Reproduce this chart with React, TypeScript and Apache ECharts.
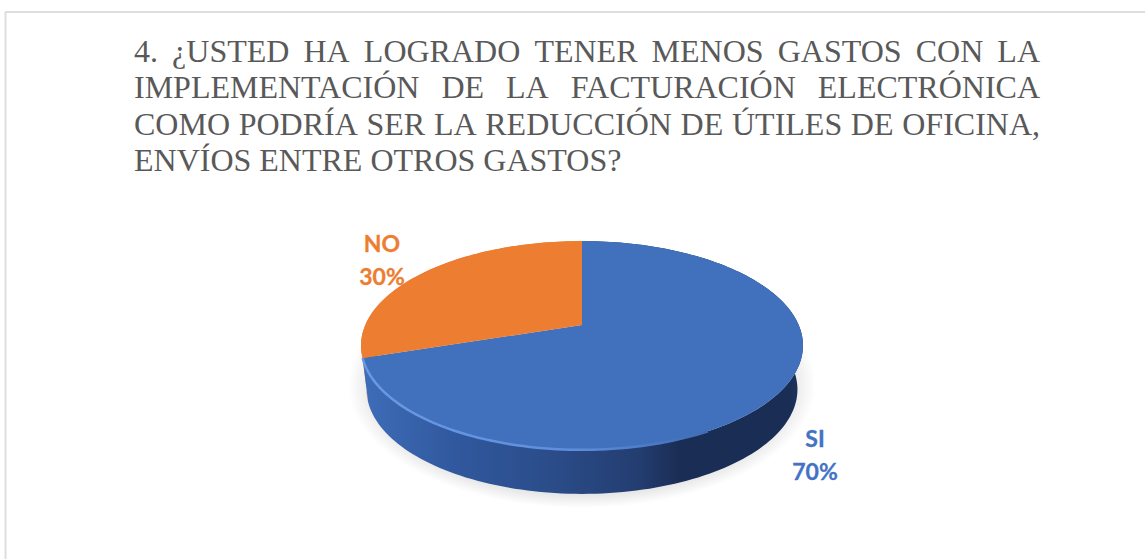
import React, { useEffect, useRef } from "react";
import * as echarts from "echarts";

const categories = ["SI", "NO"];
const values = [70, 30];
const labelColors = ["#4472C4", "#ED7D31"];
const topColors = ["#4170BD", "#ED7D31"];
const titleLines = [
  "4. ¿USTED HA LOGRADO TENER MENOS GASTOS CON LA",
  "IMPLEMENTACIÓN DE LA FACTURACIÓN ELECTRÓNICA",
  "COMO PODRÍA SER LA REDUCCIÓN DE ÚTILES DE OFICINA,",
  "ENVÍOS ENTRE OTROS GASTOS?",
];

const W = 1145;
const H = 559;
const TITLE_FONT = 32;
const TITLE_FAMILY = '"Liberation Serif", serif';
const TITLE_LEFT = 134;
const TITLE_RIGHT = 1040;
const TITLE_TOPS = [35, 71, 108, 144];

// perspective disc: fitted to apex y=325, back y=241, front y=450
const CX = 582;
const APEX_Y = 325;
const PA = 36.7;
const PC = -0.196;
const PK = 216.7;
const DEPTH = 44;
const BOTTOM_SCALE = 0.975;

const rim = (frac: number, dy = 0, sx = 1): number[] => {
  const t = frac * Math.PI * 2;
  const u = Math.sin(t);
  const v = -Math.cos(t);
  const d = PC * v + 1;
  return [CX + (u * PK * sx) / d, (PA * v + APEX_Y) / d + dy];
};
const arc = (a: number, b: number, dy = 0, sx = 1): number[][] => {
  const n = Math.max(2, Math.ceil((b - a) * 240));
  const pts: number[][] = [];
  for (let i = 0; i <= n; i++) pts.push(rim(a + ((b - a) * i) / n, dy, sx));
  return pts;
};

const total = values.reduce((s, v) => s + v, 0);
const rows: number[][] = [];
values.reduce((acc, v, i) => {
  rows.push([v, acc / total, (acc + v) / total, i]);
  return acc + v;
}, 0);

const labelPos = [
  { x: 815, y: 438 },
  { x: 382, y: 243 },
];

const wallFill = (i: number) =>
  i === 0
    ? new echarts.graphic.LinearGradient(0, 0, 1, 0, [
        { offset: 0, color: "#3E6DB8" },
        { offset: 0.2, color: "#31599F" },
        { offset: 0.45, color: "#2A4B87" },
        { offset: 0.63, color: "#233D70" },
        { offset: 0.72, color: "#1A2D54" },
        { offset: 0.97, color: "#1A2E55" },
        { offset: 1, color: "#1F3560" },
      ])
    : "#ED7D31";

const renderShadow = () => ({
  type: "ellipse",
  shape: { cx: CX, cy: 385, rx: 234, ry: 123 },
  style: {
    fill: new echarts.graphic.RadialGradient(0.5, 0.5, 0.5, [
      { offset: 0, color: "rgba(0,0,0,0.12)" },
      { offset: 0.88, color: "rgba(0,0,0,0.11)" },
      { offset: 1, color: "rgba(0,0,0,0)" },
    ]),
  },
});

const renderWall = (_: any, api: any) => {
  const a = api.value(1);
  const b = api.value(2);
  const i = api.value(3);
  const top = arc(a, b);
  const bottom = arc(a, b, DEPTH, BOTTOM_SCALE).reverse();
  return {
    type: "polygon",
    shape: { points: top.concat(bottom) },
    style: { fill: wallFill(i) },
  };
};

const renderTop = (_: any, api: any) => {
  const a = api.value(1);
  const b = api.value(2);
  const i = api.value(3);
  const children: any[] = [
    {
      type: "polygon",
      shape: { points: [[CX, APEX_Y], ...arc(a, b)] },
      style: { fill: topColors[i] },
    },
  ];
  if (i === 0) {
    children.push({
      type: "polyline",
      shape: { points: arc(0.42, b) },
      style: {
        fill: "none",
        lineWidth: 2.5,
        stroke: new echarts.graphic.LinearGradient(0, 0, 1, 0, [
          { offset: 0, color: "#6A98E4" },
          { offset: 0.6, color: "#5F8FDC" },
          { offset: 1, color: "#3F6CB6" },
        ]),
      },
    });
  }
  return { type: "group", children };
};

const renderLabel = (_: any, api: any) => {
  const i = api.value(3);
  const pos = labelPos[i];
  const font = '700 23px Lato, "Open Sans", sans-serif';
  return {
    type: "group",
    children: [categories[i], `${api.value(0)}%`].map((text, k) => ({
      type: "text",
      x: pos.x,
      y: pos.y + k * 32.5,
      style: {
        text,
        font,
        fill: labelColors[i],
        stroke: labelColors[i],
        lineWidth: 0.3,
        align: "center",
        verticalAlign: "middle",
      },
    })),
  };
};

const titleGraphics = () => {
  const ctx = document.createElement("canvas").getContext("2d")!;
  const font = `${TITLE_FONT}px ${TITLE_FAMILY}`;
  ctx.font = font;
  const out: any[] = [];
  titleLines.forEach((line, li) => {
    const words = line.split(" ");
    const widths = words.map((w) => ctx.measureText(w).width);
    const sum = widths.reduce((s, w) => s + w, 0);
    const justify = li < titleLines.length - 1;
    const gap = justify
      ? (TITLE_RIGHT - TITLE_LEFT - sum) / (words.length - 1)
      : ctx.measureText(" ").width;
    let x = TITLE_LEFT;
    words.forEach((w, k) => {
      out.push({
        type: "text",
        x,
        y: TITLE_TOPS[li],
        silent: true,
        style: { text: w, font, fill: "#595959", align: "left", verticalAlign: "top" },
      });
      x += widths[k] + gap;
    });
  });
  return out;
};

export default function App() {
  const ref = useRef<HTMLDivElement>(null);
  useEffect(() => {
    document.body.style.margin = "0";
    const chart = echarts.init(ref.current!, null, { renderer: "svg" });
    chart.setOption({
      animation: false,
      backgroundColor: "#FFFFFF",
      graphic: [
        {
          type: "line",
          silent: true,
          shape: { x1: 5.5, y1: 12, x2: 5.5, y2: H },
          style: { stroke: "#DEDEDE", lineWidth: 2 },
        },
        {
          type: "line",
          silent: true,
          shape: { x1: 5, y1: 12, x2: W, y2: 12 },
          style: { stroke: "#DEDEDE", lineWidth: 2 },
        },
        ...titleGraphics(),
      ],
      series: [
        { type: "custom", coordinateSystem: "none", silent: true, renderItem: renderShadow, data: [rows[0]] },
        { type: "custom", coordinateSystem: "none", silent: true, renderItem: renderWall, data: [...rows].reverse() },
        { type: "custom", coordinateSystem: "none", silent: true, renderItem: renderTop, data: rows },
        { type: "custom", coordinateSystem: "none", silent: true, renderItem: renderLabel, data: rows },
      ],
    });
    return () => chart.dispose();
  }, []);
  return <div ref={ref} style={{ width: W, height: H, position: "fixed", left: 0, top: 0 }} />;
}
